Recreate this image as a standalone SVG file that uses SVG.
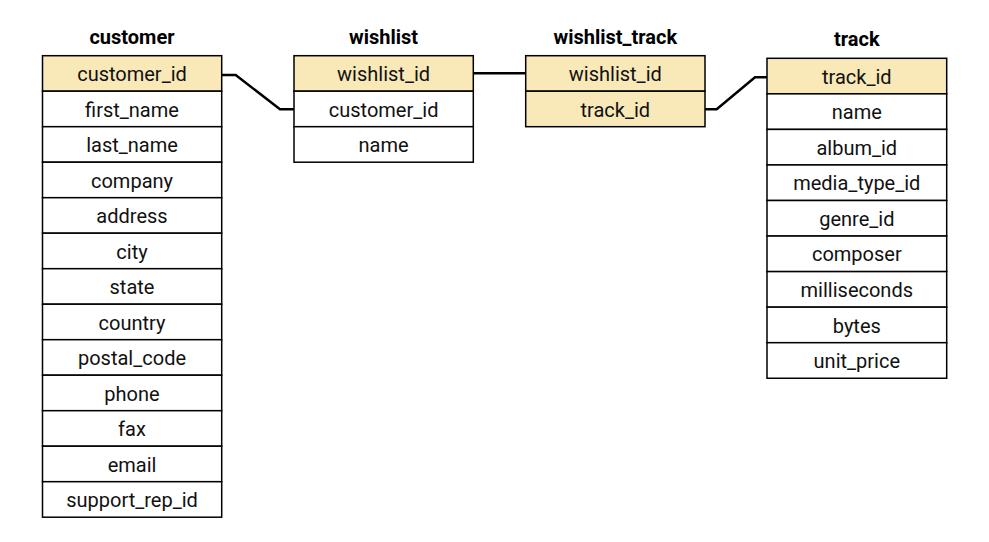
<svg xmlns="http://www.w3.org/2000/svg" width="989" height="542" viewBox="0 0 989 542">
<style>
.title{font-family:Roboto,"Liberation Sans",sans-serif;font-weight:bold;font-size:20px;fill:#000;text-anchor:middle}
.cell{stroke:#000;stroke-width:1.5;fill:#fff}
.pk{fill:#f9e8b8}
.lbl{font-family:Roboto,"Liberation Sans",sans-serif;font-size:20px;fill:#111;text-anchor:middle}
.conn{fill:none;stroke:#000;stroke-width:2.5;stroke-linejoin:miter}
</style>
<rect width="989" height="542" fill="#fff"/>
<g id="customer">
<text class="title" x="132" y="43.5">customer</text>
<rect class="cell pk" x="42.5" y="55.7" width="179.2" height="35.5"/>
<rect class="cell" x="42.5" y="91.2" width="179.2" height="35.5"/>
<rect class="cell" x="42.5" y="126.7" width="179.2" height="35.5"/>
<rect class="cell" x="42.5" y="162.2" width="179.2" height="35.5"/>
<rect class="cell" x="42.5" y="197.7" width="179.2" height="35.5"/>
<rect class="cell" x="42.5" y="233.2" width="179.2" height="35.5"/>
<rect class="cell" x="42.5" y="268.7" width="179.2" height="35.5"/>
<rect class="cell" x="42.5" y="304.2" width="179.2" height="35.5"/>
<rect class="cell" x="42.5" y="339.7" width="179.2" height="35.5"/>
<rect class="cell" x="42.5" y="375.2" width="179.2" height="35.5"/>
<rect class="cell" x="42.5" y="410.7" width="179.2" height="35.5"/>
<rect class="cell" x="42.5" y="446.2" width="179.2" height="35.5"/>
<rect class="cell" x="42.5" y="481.7" width="179.2" height="35.5"/>
<text class="lbl" x="132" y="81">customer_id</text>
<text class="lbl" x="132" y="116.5">first_name</text>
<text class="lbl" x="132" y="152">last_name</text>
<text class="lbl" x="132" y="187.5">company</text>
<text class="lbl" x="132" y="223">address</text>
<text class="lbl" x="132" y="258.5">city</text>
<text class="lbl" x="132" y="294">state</text>
<text class="lbl" x="132" y="329.5">country</text>
<text class="lbl" x="132" y="365">postal_code</text>
<text class="lbl" x="132" y="400.5">phone</text>
<text class="lbl" x="132" y="436">fax</text>
<text class="lbl" x="132" y="471.5">email</text>
<text class="lbl" x="132" y="507">support_rep_id</text>
</g>
<g id="wishlist">
<text class="title" x="383.6" y="43.5">wishlist</text>
<rect class="cell pk" x="294" y="55.7" width="179.3" height="35.5"/>
<rect class="cell" x="294" y="91.2" width="179.3" height="35.5"/>
<rect class="cell" x="294" y="126.7" width="179.3" height="35.5"/>
<text class="lbl" x="383.6" y="81">wishlist_id</text>
<text class="lbl" x="383.6" y="116.5">customer_id</text>
<text class="lbl" x="383.6" y="152">name</text>
</g>
<g id="wishlist_track">
<text class="title" x="615.3" y="43.5">wishlist_track</text>
<rect class="cell pk" x="525.7" y="55.7" width="179.3" height="35.5"/>
<rect class="cell pk" x="525.7" y="91.2" width="179.3" height="35.5"/>
<text class="lbl" x="615.3" y="81">wishlist_id</text>
<text class="lbl" x="615.3" y="116.5">track_id</text>
</g>
<g id="track">
<text class="title" x="856.8" y="46">track</text>
<rect class="cell pk" x="767" y="58.3" width="179.7" height="35.55"/>
<rect class="cell" x="767" y="93.85" width="179.7" height="35.55"/>
<rect class="cell" x="767" y="129.4" width="179.7" height="35.55"/>
<rect class="cell" x="767" y="164.95" width="179.7" height="35.55"/>
<rect class="cell" x="767" y="200.5" width="179.7" height="35.55"/>
<rect class="cell" x="767" y="236.05" width="179.7" height="35.55"/>
<rect class="cell" x="767" y="271.6" width="179.7" height="35.55"/>
<rect class="cell" x="767" y="307.15" width="179.7" height="35.55"/>
<rect class="cell" x="767" y="342.7" width="179.7" height="35.55"/>
<text class="lbl" x="856.8" y="83.7">track_id</text>
<text class="lbl" x="856.8" y="119.2">name</text>
<text class="lbl" x="856.8" y="154.8">album_id</text>
<text class="lbl" x="856.8" y="190.3">media_type_id</text>
<text class="lbl" x="856.8" y="225.9">genre_id</text>
<text class="lbl" x="856.8" y="261.4">composer</text>
<text class="lbl" x="856.8" y="297">milliseconds</text>
<text class="lbl" x="856.8" y="332.5">bytes</text>
<text class="lbl" x="856.8" y="368.1">unit_price</text>
</g>
<g id="connectors">
<polyline class="conn" points="221.7,75 235.7,75 280,109.3 294,109.3"/>
<polyline class="conn" points="473.3,73.3 525.7,73.3"/>
<polyline class="conn" points="705,109.3 716.7,109.3 755,77.3 767,77.3"/>
</g>
</svg>
